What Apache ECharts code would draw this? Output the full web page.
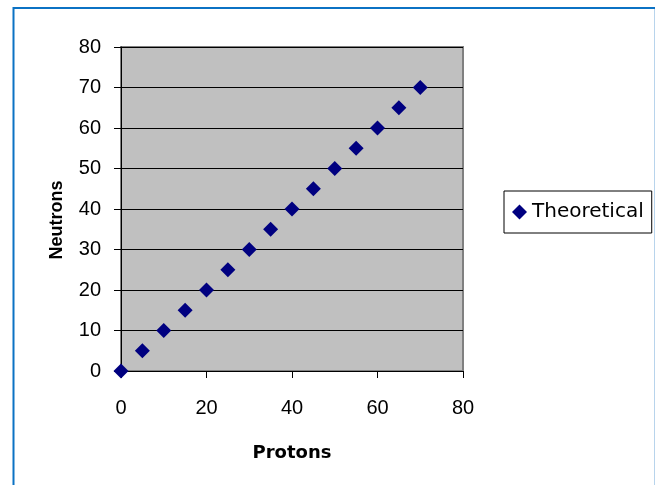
<!DOCTYPE html>
<html>
<head>
    <meta charset="utf-8">
    <title>Neutrons vs Protons</title>
    <script src="https://cdn.jsdelivr.net/npm/echarts@6/dist/echarts.min.js"></script>
    <style>
        body { margin: 0; background: #fff; }
    </style>
</head>
<body>
<div id="main" style="width: 655px;height:485px;"></div>
<script type="text/javascript">
    var myChart = echarts.init(document.getElementById('main'));

    // data
    var protons = [0, 5, 10, 15, 20, 25, 30, 35, 40, 45, 50, 55, 60, 65, 70];
    var neutrons = [0, 5, 10, 15, 20, 25, 30, 35, 40, 45, 50, 55, 60, 65, 70];
    var seriesName = 'Theoretical';

    var points = protons.map(function (p, i) {
        return [p, neutrons[i]];
    });

    var option = {
        animation: false,
        backgroundColor: '#fff',
        // outer frame (blue lines at top / left, faint at right)
        graphic: [
            { type: 'line', shape: { x1: 13, y1: 8, x2: 655, y2: 8 }, style: { stroke: '#0b72c4', lineWidth: 2 } },
            { type: 'line', shape: { x1: 13.5, y1: 7, x2: 13.5, y2: 485 }, style: { stroke: '#0b72c4', lineWidth: 2 } },
            { type: 'line', shape: { x1: 654.5, y1: 9, x2: 654.5, y2: 485 }, style: { stroke: '#b8d4ec', lineWidth: 1 } }
        ],
        grid: {
            left: 121,
            top: 47,
            width: 342,
            height: 324,
            show: true,
            backgroundColor: '#c0c0c0',
            borderColor: '#808080',
            borderWidth: 2
        },
        legend: {
            left: 504,
            top: 191,
            orient: 'vertical',
            borderColor: '#000',
            borderWidth: 1,
            padding: [11, 8, 11, 8],
            itemWidth: 15,
            itemHeight: 15,
            itemGap: 5,
            icon: 'diamond',
            textStyle: {
                fontFamily: 'DejaVu Sans',
                fontSize: 20,
                color: '#000'
            },
            data: [seriesName]
        },
        xAxis: {
            type: 'value',
            min: 0,
            max: 80,
            interval: 20,
            name: 'Protons',
            nameLocation: 'middle',
            nameGap: 73,
            nameTextStyle: {
                fontFamily: 'DejaVu Sans',
                fontWeight: 'bold',
                fontSize: 18,
                color: '#000'
            },
            axisLine: { show: true, onZero: false, lineStyle: { color: '#000', width: 1 } },
            axisTick: { show: true, inside: false, length: 7, lineStyle: { color: '#000' } },
            axisLabel: {
                margin: 27,
                fontFamily: 'Liberation Sans',
                fontSize: 20,
                color: '#000'
            },
            splitLine: { show: false }
        },
        yAxis: {
            type: 'value',
            min: 0,
            max: 80,
            interval: 10,
            name: 'Neutrons',
            nameLocation: 'middle',
            nameGap: 55,
            nameTextStyle: {
                fontFamily: 'Liberation Sans',
                fontWeight: 'bold',
                fontSize: 18,
                color: '#000',
                padding: [0, 22, 0, 0]
            },
            axisLine: { show: true, onZero: false, lineStyle: { color: '#000', width: 1 } },
            axisTick: { show: true, inside: false, length: 7, lineStyle: { color: '#000' } },
            axisLabel: {
                margin: 20,
                fontFamily: 'Liberation Sans',
                fontSize: 20,
                color: '#000'
            },
            splitLine: { show: true, lineStyle: { color: '#000', width: 1 } }
        },
        series: [{
            name: seriesName,
            type: 'scatter',
            symbol: 'diamond',
            symbolSize: 15,
            itemStyle: { color: '#000080', opacity: 1 },
            data: points
        }]
    };

    myChart.setOption(option);
</script>
</body>
</html>
